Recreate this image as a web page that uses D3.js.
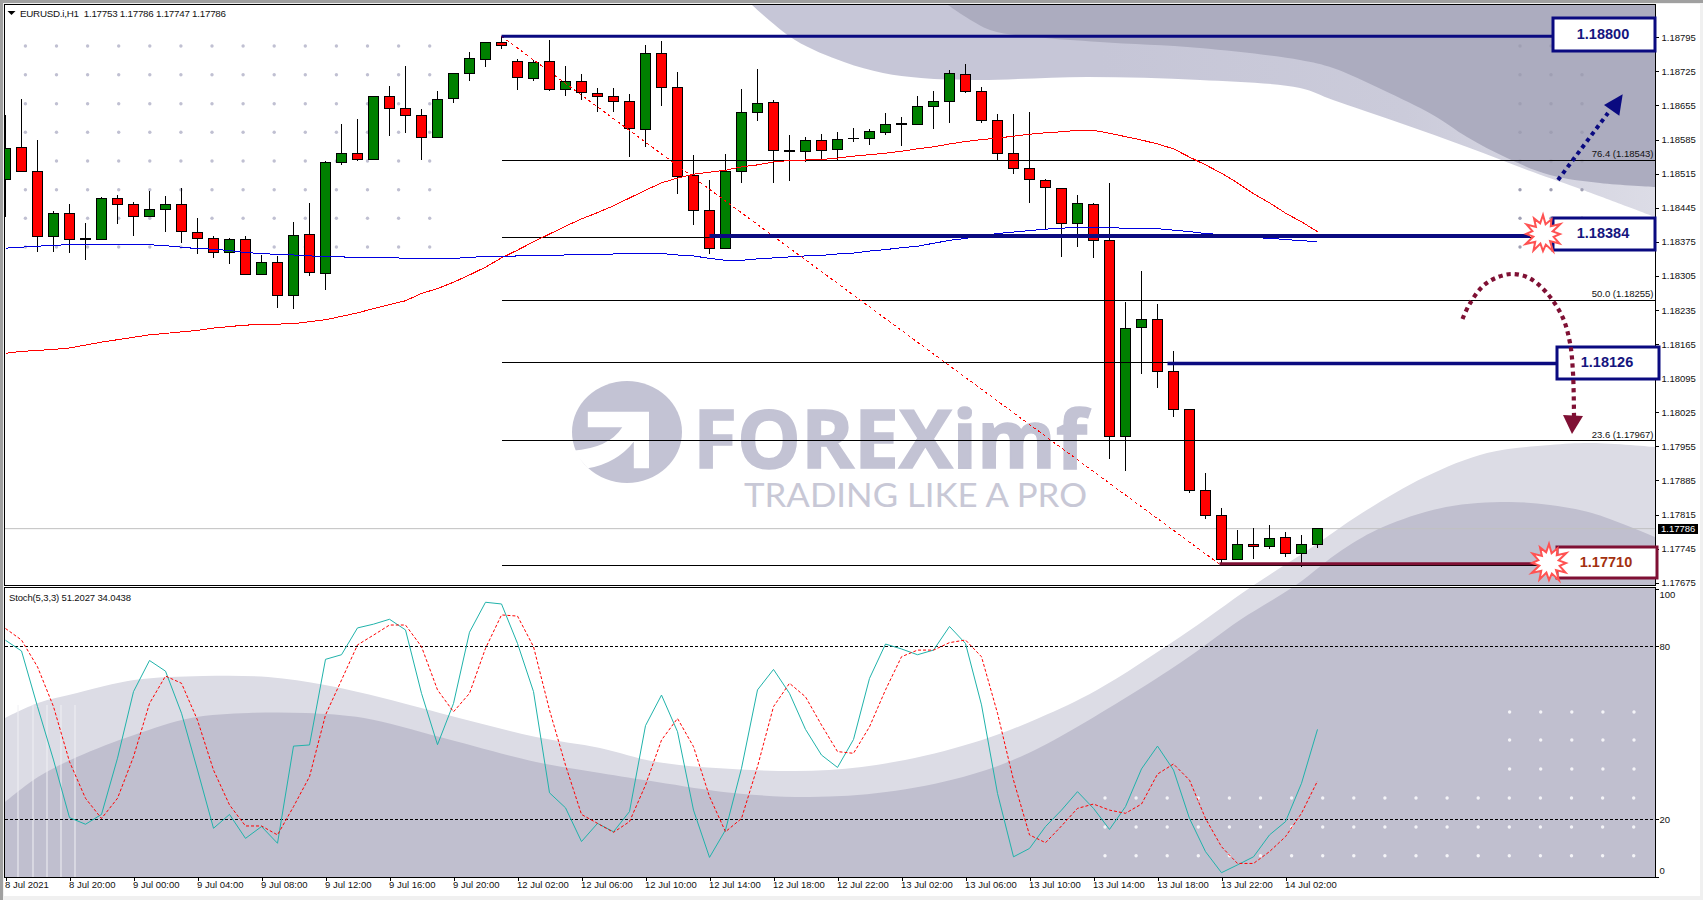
<!DOCTYPE html>
<html>
<head>
<meta charset="utf-8">
<script src="https://cdn.jsdelivr.net/npm/d3@7"></script>
<style>
  html, body { margin: 0; padding: 0; background: #f0f0f0; overflow: hidden; }
  text { font-family: "Liberation Sans", Arial, sans-serif; }
</style>
</head>
<body>
<div class="chart"></div>
<script>
const opens = [1.18503,1.18569,1.18520,1.18386,1.18433,1.18381,1.18380,1.18464,1.18452,1.18427,1.18442,1.18452,1.18394,1.18382,1.18353,1.18380,1.18308,1.18333,1.18265,1.18390,1.18310,1.18538,1.18557,1.18544,1.18674,1.18649,1.18635,1.18590,1.18670,1.18721,1.18750,1.18785,1.18746,1.18711,1.18746,1.18688,1.18705,1.18680,1.18674,1.18663,1.18606,1.18762,1.18692,1.18511,1.18440,1.18362,1.18519,1.18640,1.18661,1.18562,1.18561,1.18583,1.18565,1.18587,1.18587,1.18600,1.18616,1.18616,1.18653,1.18663,1.18719,1.18684,1.18624,1.18557,1.18526,1.18501,1.18485,1.18412,1.18452,1.18378,1.17975,1.18199,1.18216,1.18109,1.18031,1.17864,1.17813,1.17723,1.17753,1.17749,1.17768,1.17735,1.17753];
const highs = [1.18635,1.18668,1.18585,1.18438,1.18452,1.18414,1.18468,1.18472,1.18457,1.18479,1.18469,1.18485,1.18423,1.18386,1.18382,1.18387,1.18348,1.18346,1.18415,1.18455,1.18542,1.18617,1.18627,1.18674,1.18695,1.18736,1.18648,1.18685,1.18721,1.18765,1.18786,1.18797,1.18750,1.18748,1.18789,1.18736,1.18720,1.18691,1.18691,1.18679,1.18779,1.18787,1.18724,1.18553,1.18502,1.18555,1.18689,1.18730,1.18666,1.18594,1.18590,1.18596,1.18601,1.18609,1.18607,1.18640,1.18631,1.18674,1.18685,1.18728,1.18740,1.18692,1.18637,1.18637,1.18642,1.18504,1.18485,1.18471,1.18455,1.18496,1.18251,1.18315,1.18247,1.18151,1.18031,1.17900,1.17829,1.17783,1.17787,1.17793,1.17779,1.17773,1.17786];
const lows = [1.18425,1.18519,1.18355,1.18355,1.18353,1.18338,1.18380,1.18412,1.18386,1.18427,1.18396,1.18373,1.18351,1.18342,1.18330,1.18306,1.18308,1.18240,1.18238,1.18305,1.18277,1.18533,1.18542,1.18544,1.18593,1.18599,1.18544,1.18588,1.18661,1.18706,1.18735,1.18771,1.18687,1.18706,1.18685,1.18674,1.18667,1.18642,1.18642,1.18550,1.18570,1.18653,1.18474,1.18410,1.18349,1.18362,1.18496,1.18624,1.18496,1.18500,1.18538,1.18542,1.18542,1.18581,1.18574,1.18595,1.18572,1.18616,1.18607,1.18620,1.18681,1.18618,1.18542,1.18515,1.18455,1.18401,1.18344,1.18365,1.18342,1.17929,1.17905,1.18104,1.18075,1.18016,1.17860,1.17806,1.17713,1.17723,1.17723,1.17745,1.17727,1.17708,1.17747];
const closes = [1.18567,1.18519,1.18386,1.18433,1.18380,1.18380,1.18464,1.18452,1.18427,1.18442,1.18452,1.18396,1.18381,1.18353,1.18380,1.18308,1.18333,1.18265,1.18388,1.18312,1.18538,1.18557,1.18544,1.18674,1.18649,1.18635,1.18590,1.18668,1.18721,1.18752,1.18785,1.18779,1.18713,1.18744,1.18688,1.18705,1.18682,1.18673,1.18663,1.18608,1.18762,1.18692,1.18509,1.18440,1.18362,1.18520,1.18641,1.18659,1.18562,1.18561,1.18583,1.18562,1.18585,1.18588,1.18602,1.18616,1.18617,1.18653,1.18663,1.18721,1.18683,1.18624,1.18556,1.18525,1.18503,1.18486,1.18412,1.18454,1.18378,1.17975,1.18197,1.18216,1.18109,1.18031,1.17864,1.17812,1.17723,1.17753,1.17749,1.17766,1.17735,1.17753,1.17786];

const maSlow = [1.18146,1.18150,1.18152,1.18154,1.18157,1.18163,1.18169,1.18174,1.18179,1.18184,1.18187,1.18190,1.18193,1.18198,1.18201,1.18204,1.18205,1.18206,1.18207,1.18211,1.18215,1.18222,1.18229,1.18238,1.18246,1.18254,1.18269,1.18279,1.18292,1.18307,1.18323,1.18342,1.18358,1.18375,1.18391,1.18407,1.18422,1.18435,1.18449,1.18465,1.18481,1.18496,1.18506,1.18514,1.18518,1.18522,1.18529,1.18533,1.18539,1.18542,1.18543,1.18544,1.18547,1.18551,1.18554,1.18557,1.18561,1.18566,1.18570,1.18576,1.18581,1.18585,1.18588,1.18592,1.18596,1.18599,1.18601,1.18604,1.18604,1.18598,1.18591,1.18584,1.18576,1.18566,1.18549,1.18533,1.18516,1.18496,1.18474,1.18455,1.18434,1.18416,1.18396];
const maFast = [1.18362,1.18364,1.18366,1.18368,1.18369,1.18369,1.18370,1.18370,1.18370,1.18369,1.18367,1.18364,1.18361,1.18360,1.18357,1.18353,1.18351,1.18349,1.18348,1.18346,1.18345,1.18344,1.18343,1.18343,1.18343,1.18341,1.18341,1.18341,1.18341,1.18343,1.18345,1.18345,1.18346,1.18346,1.18347,1.18348,1.18349,1.18349,1.18350,1.18350,1.18351,1.18351,1.18348,1.18346,1.18341,1.18337,1.18337,1.18340,1.18342,1.18344,1.18346,1.18347,1.18350,1.18352,1.18356,1.18359,1.18363,1.18366,1.18372,1.18378,1.18382,1.18387,1.18392,1.18395,1.18398,1.18401,1.18403,1.18405,1.18405,1.18404,1.18403,1.18402,1.18402,1.18399,1.18396,1.18392,1.18390,1.18387,1.18384,1.18382,1.18380,1.18377,1.18376];

const stochMain = [82.1,78.4,59.1,40.6,20.6,18.3,21.7,41.2,64.3,75.1,71.4,56.8,37.1,16.9,21.7,13.4,17.5,11.7,45.4,45.8,75.5,77.1,86.4,87.7,89.4,85.7,63.7,45.9,60.2,84.9,95.3,94.7,81,64.3,29.2,24,12.3,18.6,15.7,22.7,52.5,63.1,50.4,23.2,6.8,16.3,37.7,64.9,72,63.7,51.2,42.3,38,47.7,68.9,80.8,79.1,77.1,78.7,86.9,81,59.7,29,7,9.9,17.5,23.2,29.6,23.8,16.5,24.4,37.5,45.4,37.1,20.3,8.8,1.5,4.2,7,14.6,19.2,32.5,51.2];
const stochSignal = [86.2,82.2,72.9,59.1,40,27.3,20.3,27.3,41.7,60.2,69.7,67.2,54.4,37.1,25,17.7,17.7,14.6,24.4,34.8,56.2,68.3,80.5,83.9,87.4,87.4,79.9,64.9,57.3,63.7,79.3,90.9,90.5,79.9,57.9,38.8,21.7,18.6,15.5,19.2,31.9,47.5,55,45.2,27.9,15.7,20.3,38.3,59.1,67.2,62.5,52.7,43.5,42.9,52.1,64.9,76.4,78.7,78.7,81.3,82.2,76.4,56.8,33.6,14.6,11.9,17.7,23.8,25.3,23.2,22.1,25.3,35.7,39.2,33.6,20.3,10.5,4.7,4.7,8.8,14,22.1,33.3];

const priceTicks = [1.18795,1.18725,1.18655,1.18585,1.18515,1.18445,1.18375,1.18305,1.18235,1.18165,1.18095,1.18025,1.17955,1.17885,1.17815,1.17745,1.17675];
const stochTicks = [0,20,80,100];
const timeTickBars = [0,4,8,12,16,20,24,28,32,36,40,44,48,52,56,60,64,68,72,76,80];
const timeTickLabels = ["8 Jul 2021","8 Jul 20:00","9 Jul 00:00","9 Jul 04:00","9 Jul 08:00","9 Jul 12:00","9 Jul 16:00","9 Jul 20:00","12 Jul 02:00","12 Jul 06:00","12 Jul 10:00","12 Jul 14:00","12 Jul 18:00","12 Jul 22:00","13 Jul 02:00","13 Jul 06:00","13 Jul 10:00","13 Jul 14:00","13 Jul 18:00","13 Jul 22:00","14 Jul 02:00"];

const fibLevels = [1.18543,1.18384,1.18255,1.18127,1.17967,1.17710];
const fibLabels = [["76.4",1.18543],["50.0",1.18255],["23.6",1.17967]];
const lastPrice = 1.17786;

// backdrop picture, page pixels
const topMidEdge = [[752,5],[795,40],[844,62],[883,73],[921,78],[978,80],[1087,77],[1200,80],[1300,88],[1333,100],[1400,123],[1467,147],[1533,172],[1583,190],[1655,217]];
const topDarkEdge = [[948,5],[990,30],[1036,37],[1100,42],[1200,48],[1300,60],[1333,68],[1383,90],[1433,115],[1467,137],[1507,158],[1550,175],[1600,183],[1655,187]];
const lowLightEdge = [[5,718],[38,703],[77,693],[134,680],[203,676],[268,677],[325,685],[383,698],[459,718],[536,737],[600,748],[657,762],[752,770],[829,770],[905,760],[982,740],[1039,718],[1097,690],[1180,637],[1254,585],[1308,550],[1362,513],[1425,477],[1487,453],[1550,445],[1592,443],[1655,447]];
const lowDarkEdge = [[5,802],[38,777],[77,757],[134,735],[191,718],[249,713],[306,713],[364,718],[440,737],[536,762],[600,773],[657,782],[733,793],[810,797],[886,792],[963,777],[1020,757],[1077,727],[1180,663],[1240,620],[1296,585],[1342,550],[1383,527],[1446,507],[1508,502],[1550,505],[1592,513],[1655,537]];

const W = 1703, H = 900;
const plot = { left: 4.5, right: 1655.5, top: 4.5, mainBottom: 585.5, subTop: 587.5, subBottom: 877.5 };

const svg = d3.select(".chart").append("svg")
    .attr("width", W)
    .attr("height", H)
    .style("display", "block");

const x = d3.scaleLinear().domain([0, 82]).range([5.5, 1317.5]);
const y = d3.scaleLinear().domain([1.17675, 1.18795]).range([582.7, 37.3]);
const yStoch = d3.scaleLinear().domain([0, 100]).range([877, 588.7]);

const navy = "#0a0a80", maroon = "#7f1034";

const defs = svg.append("defs");
defs.append("clipPath").attr("id", "clip-main").append("rect")
    .attr("x", plot.left).attr("y", plot.top)
    .attr("width", plot.right - plot.left).attr("height", plot.mainBottom - plot.top);
defs.append("clipPath").attr("id", "clip-sub").append("rect")
    .attr("x", plot.left).attr("y", plot.subTop)
    .attr("width", plot.right - plot.left).attr("height", plot.subBottom - plot.subTop);
const grad = defs.append("linearGradient").attr("id", "top-mid")
    .attr("gradientUnits", "userSpaceOnUse")
    .attr("x1", 1100).attr("y1", 0).attr("x2", 1655).attr("y2", 0);
grad.append("stop").attr("offset", 0).attr("stop-color", "#c6c6d7");
grad.append("stop").attr("offset", 0.55).attr("stop-color", "#cbcbda");
grad.append("stop").attr("offset", 1).attr("stop-color", "#dcdce6");

// window frame
svg.append("rect").attr("width", W).attr("height", H).attr("fill", "#f0f0f0");
svg.append("rect").attr("width", W).attr("height", 3).attr("fill", "#a0a0a0");
svg.append("rect").attr("width", 3).attr("height", H).attr("fill", "#a0a0a0");
svg.append("rect").attr("x", 4).attr("y", 4).attr("width", 1696).attr("height", 892).attr("fill", "#fff");

// backdrop
const edgeLine = d3.line().curve(d3.curveCatmullRom);
function wavePath(edge, corners) {
    return edgeLine(edge) + corners.map(c => "L" + c[0] + "," + c[1]).join("") + "Z";
}
const backdrop = svg.append("g");
const backdropMain = backdrop.append("g").attr("clip-path", "url(#clip-main)");
const backdropSub = backdrop.append("g").attr("clip-path", "url(#clip-sub)");
backdropMain.append("path").attr("d", wavePath(topMidEdge, [[1655, 5]])).attr("fill", "url(#top-mid)");
backdropMain.append("path").attr("d", wavePath(topDarkEdge, [[1655, 5]])).attr("fill", "#acacbf");
[backdropMain, backdropSub].forEach(b => {
    b.append("path").attr("d", wavePath(lowLightEdge, [[1655, 877], [5, 877]])).attr("fill", "#dcdce5");
    b.append("path").attr("d", wavePath(lowDarkEdge, [[1655, 877], [5, 877]])).attr("fill", "#c0bfcf");
});
// thin pale stripes at the left of the lower panel
backdropSub.selectAll("line.stripe")
    .data([18, 33, 47, 61, 75])
    .enter().append("line")
    .attr("x1", d => d).attr("x2", d => d)
    .attr("y1", 705).attr("y2", 877)
    .attr("stroke", "#f0f0f4").attr("stroke-width", 1);

// dot grids
const dotRows = [46, 74.7, 103.7, 132.3, 161, 189.7, 218.3, 247];
const dots = backdrop.append("g");
function dotGrid(xs, ys, color) {
    const pts = d3.cross(xs, ys);
    dots.append("g").selectAll("circle").data(pts).enter().append("circle")
        .attr("cx", d => d[0]).attr("cy", d => d[1]).attr("r", 1.7).attr("fill", color);
}
dotGrid(d3.range(14).map(k => 25.4 + 31.1 * k), dotRows, "#c0c0d2");
dotGrid([1520, 1551, 1582], dotRows, "#9f9fb3");
dotGrid(d3.range(5).map(k => 1509.6 + 31.1 * k), [712, 740, 769], "#f4f4f8");
dotGrid(d3.range(18).map(k => 1105 + 31.1 * k), [798, 827, 855.7], "#f4f4f8");

// logo watermark
const logo = svg.append("g");
logo.append("ellipse").attr("cx", 627).attr("cy", 432).attr("rx", 55).attr("ry", 51).attr("fill", "#c3c3d4");
logo.append("path")
    .attr("d", "M587.8,411.7L649,411.7L649,468.3L633.8,468.3L633.8,441.7Q616.5,463.3 587.8,468.3L572.5,450.7Q608.9,448.3 622.3,427.3L587.8,427.3Z")
    .attr("fill", "#fff");
logo.append("text").text("FOREXimf")
    .attr("x", 693).attr("y", 468)
    .attr("font-size", 80).attr("font-weight", 700)
    .attr("textLength", 394).attr("lengthAdjust", "spacingAndGlyphs")
    .style("font-family", "'Open Sans'")
    .attr("fill", "#c3c3d4")
    .attr("stroke", "#c3c3d4").attr("stroke-width", 1.5);
logo.append("text").text("TRADING LIKE A PRO")
    .attr("x", 744).attr("y", 507)
    .attr("font-size", 32)
    .attr("textLength", 343).attr("lengthAdjust", "spacingAndGlyphs")
    .style("font-family", "Lato")
    .attr("fill", "#c8c8d6");

// main panel
const main = svg.append("g").attr("clip-path", "url(#clip-main)");

main.append("line")
    .attr("x1", plot.left).attr("x2", plot.right)
    .attr("y1", y(lastPrice)).attr("y2", y(lastPrice))
    .attr("stroke", "#c0c0c0").attr("stroke-width", 1);

const candles = main.append("g").selectAll("g")
    .data(d3.range(opens.length))
    .enter().append("g")
    .attr("shape-rendering", "crispEdges");

candles.append("line")
    .attr("x1", i => x(i)).attr("x2", i => x(i))
    .attr("y1", i => y(highs[i])).attr("y2", i => y(lows[i]))
    .attr("stroke", "#000").attr("stroke-width", 1);

candles.append("rect")
    .attr("x", i => x(i) - 5)
    .attr("y", i => y(Math.max(opens[i], closes[i])))
    .attr("width", 10)
    .attr("height", i => Math.abs(y(opens[i]) - y(closes[i])))
    .attr("fill", i => closes[i] >= opens[i] ? "#008000" : "#ff0000")
    .attr("stroke", "#000").attr("stroke-width", 1);

main.append("g").selectAll("line")
    .data(fibLevels)
    .enter().append("line")
    .attr("x1", x(31)).attr("x2", plot.right)
    .attr("y1", d => y(d)).attr("y2", d => y(d))
    .attr("stroke", "#000").attr("stroke-width", 1)
    .attr("shape-rendering", "crispEdges");

const maLine = d3.line().x((d, i) => x(i)).y(d => y(d));
main.append("path").datum(maSlow).attr("d", maLine)
    .attr("fill", "none").attr("stroke", "#ff0000").attr("stroke-width", 1)
    .attr("shape-rendering", "crispEdges");
main.append("path").datum(maFast).attr("d", maLine)
    .attr("fill", "none").attr("stroke", "#0000e0").attr("stroke-width", 1)
    .attr("shape-rendering", "crispEdges");

// fibo trend line
main.append("line")
    .attr("x1", x(31)).attr("y1", y(1.18797))
    .attr("x2", x(76)).attr("y2", y(1.1771))
    .attr("stroke", "#ff0000").attr("stroke-width", 1)
    .attr("stroke-dasharray", "3 3")
    .attr("shape-rendering", "crispEdges");

svg.append("g").selectAll("text")
    .data(fibLabels)
    .enter().append("text")
    .attr("x", 1653.5)
    .attr("y", d => y(d[1]) - 3)
    .attr("text-anchor", "end")
    .attr("font-size", 9.5)
    .attr("fill", "#111")
    .text(d => d[0] + " (" + d[1].toFixed(5) + ")");

// header labels
svg.append("path").attr("d", "M7.5,11L15.5,11L11.5,15Z").attr("fill", "#000");
svg.append("text").text("EURUSD.i,H1  1.17753 1.17786 1.17747 1.17786")
    .attr("xml:space", "preserve")
    .attr("x", 20).attr("y", 16.5)
    .attr("font-size", 9.8).attr("textLength", 206).attr("fill", "#111");

// stochastic panel
const sub = svg.append("g").attr("clip-path", "url(#clip-sub)");
sub.append("g").selectAll("line")
    .data([20, 80])
    .enter().append("line")
    .attr("x1", plot.left).attr("x2", plot.right)
    .attr("y1", d => yStoch(d)).attr("y2", d => yStoch(d))
    .attr("stroke", "#000").attr("stroke-dasharray", "3 2")
    .attr("shape-rendering", "crispEdges");

const stochLine = d3.line().x((d, i) => x(i)).y(d => yStoch(d));
sub.append("path").datum(stochMain).attr("d", stochLine)
    .attr("fill", "none").attr("stroke", "#20b2aa").attr("stroke-width", 1);
sub.append("path").datum(stochSignal).attr("d", stochLine)
    .attr("fill", "none").attr("stroke", "#ff0000").attr("stroke-width", 1)
    .attr("stroke-dasharray", "3 2");

svg.append("text").text("Stoch(5,3,3) 51.2027 34.0438")
    .attr("x", 9).attr("y", 600.5)
    .attr("font-size", 9.5).attr("textLength", 122).attr("fill", "#111");

// panel frames
svg.append("g").selectAll("rect")
    .data([[plot.top, plot.mainBottom], [plot.subTop, plot.subBottom]])
    .enter().append("rect")
    .attr("x", plot.left).attr("y", d => d[0])
    .attr("width", plot.right - plot.left).attr("height", d => d[1] - d[0])
    .attr("fill", "none").attr("stroke", "#000")
    .attr("shape-rendering", "crispEdges");

// axes
function styleAxis(g) {
    g.select(".domain").remove();
    g.selectAll(".tick line").attr("stroke", "#000").attr("shape-rendering", "crispEdges");
    g.selectAll(".tick text").attr("fill", "#111")
        .style("font-family", "'Liberation Sans'").style("font-size", "9.5px");
}

svg.append("g")
    .attr("transform", `translate(${plot.right},0)`)
    .call(d3.axisRight(y).tickValues(priceTicks).tickFormat(d3.format(".5f")).tickSize(3).tickPadding(3))
    .call(styleAxis);

svg.append("g")
    .attr("transform", `translate(${plot.right},0)`)
    .call(d3.axisRight(yStoch).tickValues(stochTicks).tickSize(3).tickPadding(1))
    .call(styleAxis)
    .call(g => g.selectAll(".tick text")
        .attr("dy", d => d === 100 ? "0.9em" : d === 0 ? "-0.35em" : "0.32em"));

svg.append("g")
    .attr("transform", `translate(0,${plot.subBottom})`)
    .call(d3.axisBottom(x).tickValues(timeTickBars)
        .tickFormat((d, i) => timeTickLabels[i]).tickSize(3).tickPadding(1))
    .call(styleAxis)
    .call(g => g.selectAll(".tick text").attr("text-anchor", "start").attr("dx", "-1"));

// last price tag
svg.append("rect").attr("x", 1658).attr("y", 524).attr("width", 40).attr("height", 10).attr("fill", "#000");
svg.append("text").text(lastPrice.toFixed(5))
    .attr("x", 1661).attr("y", y(lastPrice) + 3.5)
    .attr("font-size", 9.5).attr("fill", "#fff");

// drawn levels with boxes
const levelValues = [1.18797, 1.18387, 1.18125, 1.17714];
const levelText = ["1.18800", "1.18384", "1.18126", "1.17710"];
const levelStart = [x(31), x(44), x(73) - 6, x(76) - 2];
const levelEnd = [1553, 1530, 1557, 1535];
const levelWidth = [3, 4, 3.5, 3];
const levelColor = [navy, navy, navy, maroon];
const boxes = [[1553, 18, 102, 33], [1553, 218, 102, 32], [1557, 347, 102, 32], [1557, 547, 100, 31]];
const textColor = ["#15157e", "#15157e", "#15157e", "#a3300f"];

levelValues.forEach((v, k) => {
    svg.append("line")
        .attr("x1", levelStart[k]).attr("x2", levelEnd[k])
        .attr("y1", y(v)).attr("y2", y(v))
        .attr("stroke", levelColor[k]).attr("stroke-width", levelWidth[k]);
    const b = boxes[k];
    svg.append("rect")
        .attr("x", b[0]).attr("y", b[1]).attr("width", b[2]).attr("height", b[3])
        .attr("fill", "#fff").attr("stroke", levelColor[k]).attr("stroke-width", 3);
    svg.append("text").text(levelText[k])
        .attr("x", b[0] + b[2] / 2 - 1).attr("y", b[1] + b[3] / 2 + 4)
        .attr("text-anchor", "middle")
        .attr("font-size", 14.5).attr("font-weight", 700)
        .attr("fill", textColor[k]);
});

// bursts on the boxes
const burstRadii = [19, 10, 17, 11, 20, 10, 17, 11, 19, 10, 20, 11, 17, 10, 19, 11, 20, 10, 17, 11, 19, 10, 18, 11];
const burst = d3.lineRadial()
    .angle((d, i) => i / burstRadii.length * 2 * Math.PI)
    .radius(d => d)
    .curve(d3.curveLinearClosed);
[[1543, 234], [1549, 563]].forEach(c => {
    svg.append("path")
        .attr("transform", `translate(${c[0]},${c[1]})`)
        .attr("d", burst(burstRadii))
        .attr("fill", "#fff").attr("stroke", "#ff5252").attr("stroke-width", 2);
});

// dotted arrows
const upArrow = [[1558, 180], [1608, 113]];
const downArrow = [[1462.5, 319], [1469, 305], [1483, 286], [1498, 277], [1512.5, 274], [1529, 278], [1546, 292], [1562.5, 317], [1570, 343], [1573, 373], [1574, 417]];
svg.append("path").attr("d", d3.line()(upArrow))
    .attr("fill", "none").attr("stroke", navy).attr("stroke-width", 4).attr("stroke-dasharray", "4 4");
svg.append("path").attr("d", "M1622.7,94.3L1604,105L1619.3,115.7Z").attr("fill", navy);
svg.append("path").attr("d", d3.line().curve(d3.curveCatmullRom)(downArrow))
    .attr("fill", "none").attr("stroke", maroon).attr("stroke-width", 4.2).attr("stroke-dasharray", "4.2 4");
svg.append("path").attr("d", "M1563,415L1583,416L1572,434Z").attr("fill", maroon);
</script>
</body>
</html>
